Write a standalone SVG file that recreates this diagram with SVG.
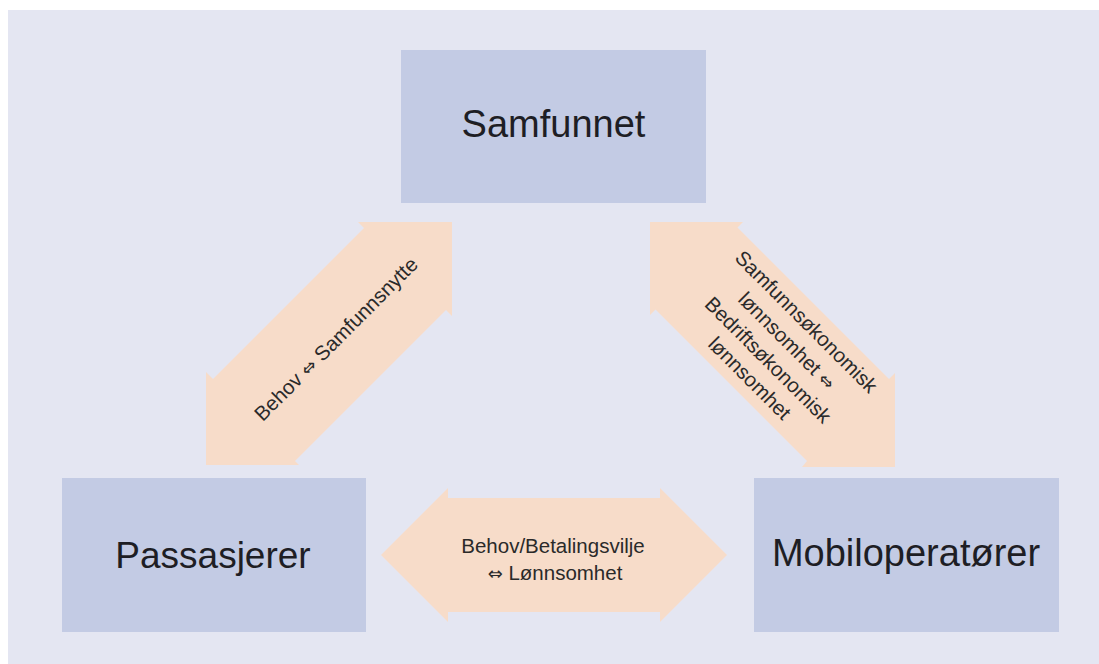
<svg xmlns="http://www.w3.org/2000/svg" width="1099" height="664" viewBox="0 0 1099 664">
<style>
.box{fill:#c3cbe4}
.arrow{fill:#f7dcc9}
.big{font-family:"Liberation Sans",Arial,sans-serif;font-size:38px;fill:#1e1e24;text-anchor:middle}
.lbl{font-family:"Liberation Sans","DejaVu Sans",Arial,sans-serif;font-size:20.5px;fill:#2a2a2a;text-anchor:middle}
.sym{font-family:"DejaVu Sans",sans-serif;font-size:18px}
</style>
<rect x="0" y="0" width="1099" height="664" fill="#ffffff"/>
<rect x="8" y="10" width="1091" height="654" fill="#e4e6f2"/>
<g id="connectors">
<g id="arrow-left">
<polygon class="arrow" points="452,222 452,316 446,310 295,461 299,465 206,465 206,372 213,379 364,228 358,222"/>
<text class="lbl" transform="translate(336,339) rotate(-45)" x="0" y="7">Behov <tspan class="sym">⇔</tspan> Samfunnsnytte</text>
</g>
<g id="arrow-right">
<polygon class="arrow" points="650,222 743,222 737.5,227.5 889,379 895,373 895,467 802,467 807,461 655.5,309.5 650,315"/>
<g transform="translate(778,350) rotate(45)">
<text class="lbl" x="0" y="-33">Samfunnsøkonomisk</text>
<text class="lbl" x="0" y="-6">lønnsomhet <tspan class="sym">⇔</tspan></text>
<text class="lbl" x="0" y="21">Bedriftsøkonomisk</text>
<text class="lbl" x="0" y="47">lønnsomhet</text>
</g>
</g>
<g id="arrow-bottom">
<polygon class="arrow" points="381,555 448,488 448,498 660,498 660,488 727,555 660,622 660,612 448,612 448,622"/>
<text class="lbl" x="553" y="553">Behov/Betalingsvilje</text>
<text class="lbl" x="555" y="580"><tspan class="sym">⇔</tspan> Lønnsomhet</text>
</g>
</g>
<g id="node-samfunnet">
<rect class="box" x="401" y="50" width="305" height="153"/>
<text class="big" x="553.5" y="137">Samfunnet</text>
</g>
<g id="node-passasjerer">
<rect class="box" x="62" y="478" width="304" height="154"/>
<text class="big" x="213" y="568" style="font-size:37px">Passasjerer</text>
</g>
<g id="node-mobiloperatorer">
<rect class="box" x="754" y="478" width="305" height="154"/>
<text class="big" x="906" y="566">Mobiloperatører</text>
</g>
</svg>
